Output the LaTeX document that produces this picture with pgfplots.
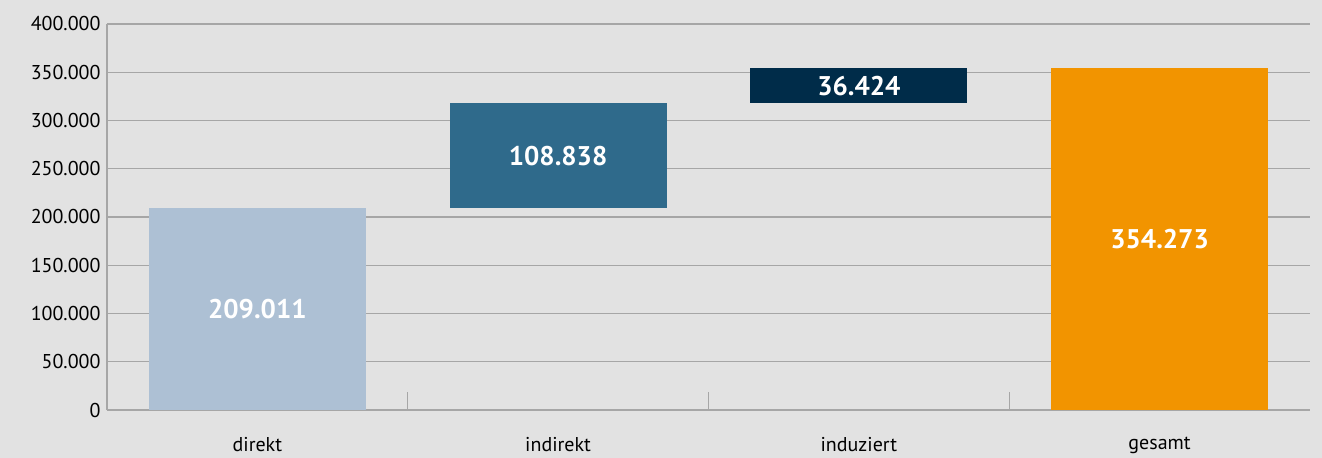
\documentclass[border=0pt]{standalone}
\usepackage{pgfplots}
\pgfplotsset{compat=1.18}
\usepackage{fontspec}
\setmainfont{PT Sans}
\definecolor{bgc}{HTML}{E2E2E2}
\definecolor{gridc}{HTML}{A6A6A6}
\definecolor{cdirekt}{HTML}{ADC0D4}
\definecolor{cindirekt}{HTML}{2F6A8B}
\definecolor{cinduziert}{HTML}{002C49}
\definecolor{cgesamt}{HTML}{F29400}
\begin{document}
\begin{tikzpicture}
\fill[bgc] (-107bp,-48bp) rectangle (1215bp,410bp);
\begin{axis}[
  scale only axis,
  width=1203bp, height=386bp,
  xmin=0.5, xmax=4.5,
  ymin=0, ymax=400000,
  ybar stacked,
  bar width=217bp,
  axis x line*=bottom,
  axis y line*=left,
  axis line style={gridc, line width=1.2bp, -},
  xtick={1.5,2.5,3.5},
  xticklabels={},
  major tick length=18bp,
  tick align=inside,
  x tick style={draw=gridc, line width=1.2bp},
  extra x ticks={1,2,3,4},
  extra x tick labels={direkt,indirekt,induziert,gesamt},
  extra x tick style={major tick length=0pt, tick style={draw opacity=0}},
  ytick={0,50000,...,400000},
  y tick style={draw=none},
  ymajorgrids,
  major grid style={gridc, line width=1.2bp},
  scaled y ticks=false,
  /pgf/number format/.cd, 1000 sep={.}, fixed, assume math mode=true,
  /pgfplots/.cd,
  tick label style={font=\fontsize{20bp}{24bp}\selectfont, text=black},
  yticklabel style={xshift=-3bp},
  xticklabel style={yshift=-24bp},
]
\addplot[draw=none, fill=none] coordinates {(1,0) (2,209011) (3,317849) (4,0)};
\addplot[draw=none, fill=cdirekt] coordinates {(1,209011) (2,0) (3,0) (4,0)};
\addplot[draw=none, fill=cindirekt] coordinates {(1,0) (2,108838) (3,0) (4,0)};
\addplot[draw=none, fill=cinduziert] coordinates {(1,0) (2,0) (3,36424) (4,0)};
\addplot[draw=none, fill=cgesamt] coordinates {(1,0) (2,0) (3,0) (4,354273)};
\end{axis}
\begin{axis}[
  scale only axis,
  width=1203bp, height=386bp,
  xmin=0.5, xmax=4.5,
  ymin=0, ymax=400000,
  hide axis,
]
\addplot[draw=none, mark=none,
  nodes near coords, point meta=explicit symbolic,
  nodes near coords style={anchor=center, text=white, font=\fontsize{27bp}{32bp}\selectfont\bfseries}]
  table[meta=label] {
x y label
1 104505 209.011
2 263430 108.838
3 336061 36.424
4 177136 354.273
};
\end{axis}
\end{tikzpicture}
\end{document}
